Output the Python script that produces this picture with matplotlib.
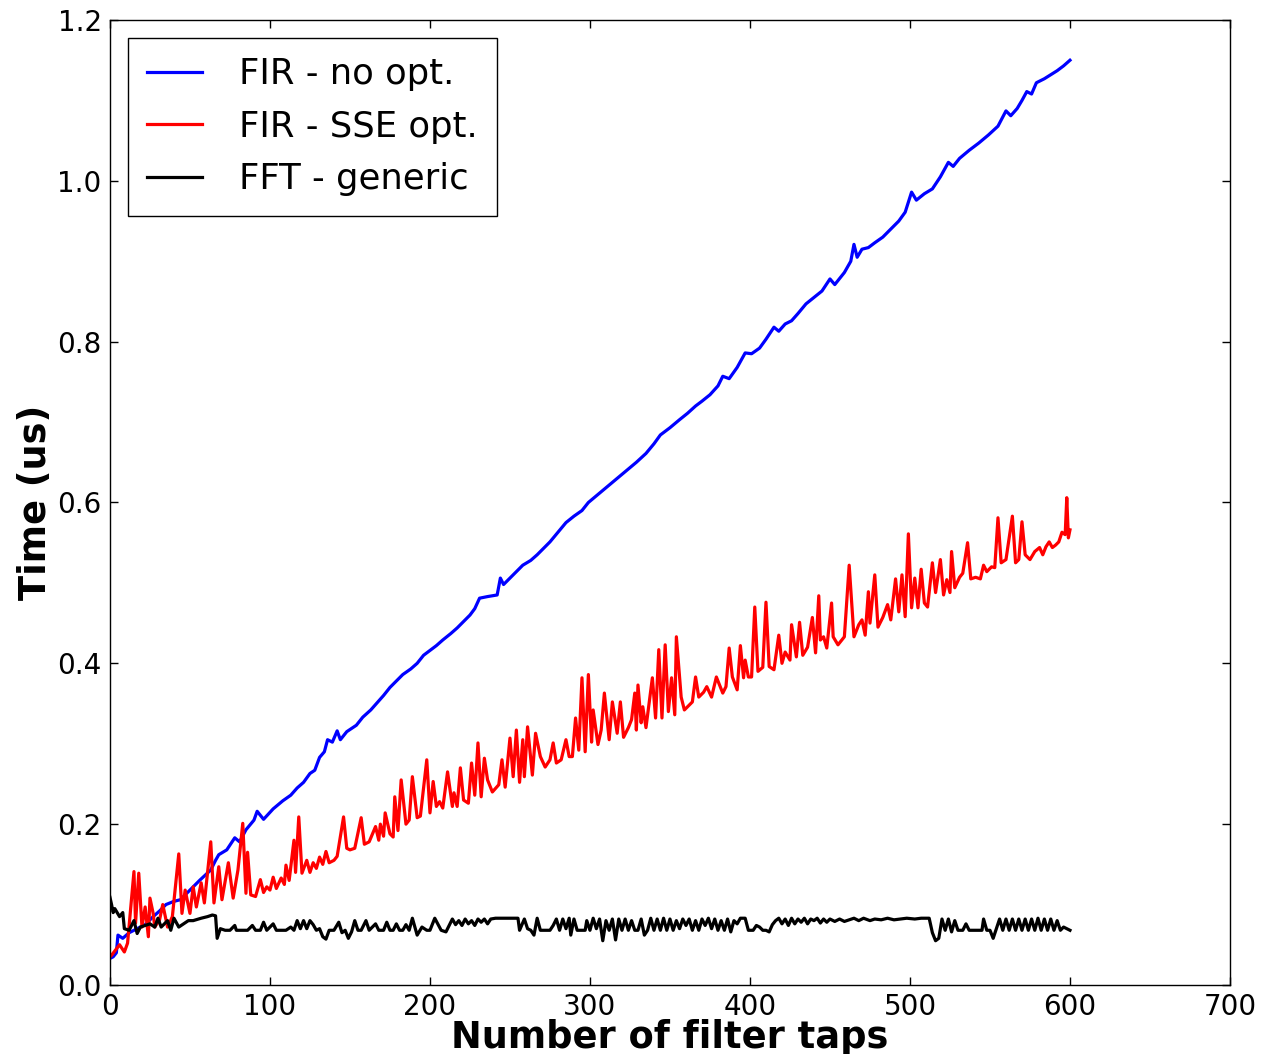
import matplotlib
matplotlib.use("Agg")
import matplotlib.pyplot as plt

# ---- data (tap, time in us) ----
fir_noopt_pts = [
    (0, 0.033), (2, 0.035), (4, 0.040), (5, 0.062), (8, 0.058), (12, 0.065), (17, 0.070),
    (22, 0.075), (27, 0.085), (31, 0.092), (35, 0.100), (40, 0.104), (44, 0.106), (50, 0.118),
    (56, 0.130), (63, 0.143), (66, 0.155), (68, 0.162), (73, 0.168), (78, 0.183), (81, 0.178),
    (85, 0.193), (90, 0.205), (92, 0.216), (96, 0.206), (102, 0.219), (108, 0.229), (113, 0.236),
    (117, 0.245), (121, 0.252), (125, 0.263), (128, 0.267), (131, 0.283), (134, 0.290),
    (136, 0.305), (139, 0.302), (142, 0.316), (144, 0.305), (148, 0.315), (154, 0.323),
    (158, 0.333), (163, 0.342), (167, 0.351), (171, 0.360), (175, 0.370), (179, 0.378),
    (183, 0.386), (188, 0.393), (192, 0.400), (196, 0.410), (200, 0.416), (204, 0.422),
    (208, 0.429), (213, 0.437), (217, 0.444), (221, 0.452), (225, 0.460), (228, 0.468),
    (231, 0.481), (236, 0.483), (242, 0.485), (244, 0.506), (246, 0.498), (248, 0.502),
    (253, 0.512), (258, 0.522), (263, 0.528), (267, 0.535), (271, 0.543), (275, 0.551),
    (280, 0.563), (285, 0.575), (290, 0.583), (295, 0.590), (299, 0.600), (305, 0.610),
    (311, 0.620), (317, 0.630), (323, 0.640), (329, 0.650), (335, 0.661), (340, 0.673),
    (344, 0.684), (350, 0.693), (356, 0.703), (361, 0.711), (366, 0.720), (370, 0.726),
    (375, 0.734), (380, 0.745), (383, 0.757), (387, 0.754), (392, 0.768), (397, 0.786),
    (401, 0.785), (406, 0.792), (410, 0.803), (415, 0.818), (418, 0.813), (422, 0.822),
    (426, 0.826), (430, 0.835), (435, 0.847), (440, 0.855), (445, 0.863), (450, 0.878),
    (453, 0.871), (459, 0.886), (463, 0.900), (465, 0.921), (467, 0.905), (470, 0.915),
    (474, 0.917), (478, 0.923), (483, 0.930), (488, 0.940), (493, 0.950), (497, 0.961),
    (501, 0.986), (504, 0.976), (509, 0.984), (514, 0.990), (519, 1.005), (524, 1.023),
    (527, 1.018), (531, 1.028), (537, 1.038), (543, 1.047), (549, 1.057), (555, 1.068),
    (560, 1.087), (563, 1.081), (567, 1.090), (570, 1.100), (573, 1.111), (576, 1.108),
    (579, 1.122), (584, 1.127), (588, 1.132), (592, 1.137), (596, 1.143), (600, 1.150),
]

fir_sse_pts = [
    (0, 0.035), (1, 0.037), (6, 0.050), (9, 0.041), (11, 0.052), (15, 0.141), (16, 0.077),
    (18, 0.139), (20, 0.072), (22, 0.097), (24, 0.060), (25, 0.108), (27, 0.089), (28, 0.072),
    (31, 0.081), (33, 0.100), (36, 0.072), (39, 0.085), (43, 0.163), (45, 0.089), (47, 0.118),
    (50, 0.089), (52, 0.122), (54, 0.097), (57, 0.127), (59, 0.102), (63, 0.178), (65, 0.102),
    (68, 0.147), (70, 0.106), (74, 0.152), (77, 0.108), (80, 0.143), (83, 0.201), (85, 0.114),
    (86, 0.165), (88, 0.112), (91, 0.110), (94, 0.131), (96, 0.115), (98, 0.122), (100, 0.118),
    (102, 0.134), (104, 0.120), (107, 0.133), (109, 0.125), (110, 0.149), (112, 0.130),
    (115, 0.180), (116, 0.140), (118, 0.209), (120, 0.139), (123, 0.155), (125, 0.140),
    (127, 0.152), (129, 0.145), (131, 0.159), (133, 0.150), (135, 0.166), (137, 0.152),
    (140, 0.155), (142, 0.160), (146, 0.209), (148, 0.170), (150, 0.168), (153, 0.170),
    (157, 0.208), (159, 0.175), (162, 0.178), (166, 0.197), (168, 0.180), (169, 0.200),
    (171, 0.185), (172, 0.214), (175, 0.188), (177, 0.184), (178, 0.234), (180, 0.192),
    (182, 0.255), (185, 0.200), (187, 0.205), (189, 0.259), (192, 0.208), (194, 0.210),
    (198, 0.280), (200, 0.214), (202, 0.253), (204, 0.222), (206, 0.228), (208, 0.220),
    (211, 0.265), (214, 0.222), (215, 0.239), (217, 0.222), (219, 0.270), (221, 0.230),
    (224, 0.226), (226, 0.276), (228, 0.236), (230, 0.301), (232, 0.234), (234, 0.282),
    (236, 0.255), (239, 0.240), (243, 0.249), (245, 0.280), (247, 0.246), (250, 0.307),
    (252, 0.259), (254, 0.317), (256, 0.252), (258, 0.305), (259, 0.259), (261, 0.321),
    (264, 0.261), (266, 0.313), (269, 0.284), (272, 0.271), (275, 0.280), (277, 0.301),
    (279, 0.276), (282, 0.280), (285, 0.305), (287, 0.284), (289, 0.284), (291, 0.332),
    (293, 0.292), (295, 0.382), (297, 0.290), (299, 0.386), (301, 0.302), (302, 0.342),
    (305, 0.299), (307, 0.317), (309, 0.363), (312, 0.305), (314, 0.352), (317, 0.313),
    (319, 0.352), (321, 0.308), (324, 0.320), (326, 0.330), (328, 0.363), (329, 0.317),
    (330, 0.373), (332, 0.326), (333, 0.346), (335, 0.320), (339, 0.382), (341, 0.332),
    (343, 0.417), (345, 0.332), (347, 0.423), (349, 0.340), (351, 0.382), (353, 0.336),
    (354, 0.433), (357, 0.358), (359, 0.342), (364, 0.352), (366, 0.383), (368, 0.358),
    (371, 0.364), (373, 0.371), (376, 0.358), (379, 0.383), (381, 0.373), (383, 0.363),
    (385, 0.371), (387, 0.419), (389, 0.383), (392, 0.367), (394, 0.422), (396, 0.382),
    (397, 0.404), (399, 0.383), (401, 0.383), (403, 0.470), (405, 0.390), (408, 0.395),
    (410, 0.476), (412, 0.396), (415, 0.392), (418, 0.435), (420, 0.400), (422, 0.414),
    (425, 0.404), (426, 0.448), (429, 0.408), (431, 0.451), (433, 0.410), (436, 0.420),
    (439, 0.457), (441, 0.413), (443, 0.484), (444, 0.429), (446, 0.433), (448, 0.419),
    (451, 0.475), (452, 0.433), (455, 0.423), (459, 0.433), (462, 0.522), (465, 0.433),
    (468, 0.448), (470, 0.454), (472, 0.435), (474, 0.489), (475, 0.450), (478, 0.510),
    (480, 0.445), (483, 0.457), (486, 0.473), (488, 0.454), (491, 0.505), (493, 0.464),
    (495, 0.510), (497, 0.458), (499, 0.561), (501, 0.469), (503, 0.506), (505, 0.469),
    (507, 0.517), (509, 0.475), (511, 0.470), (514, 0.525), (516, 0.488), (519, 0.529),
    (521, 0.485), (523, 0.504), (525, 0.488), (526, 0.539), (528, 0.494), (531, 0.507),
    (533, 0.512), (536, 0.550), (538, 0.505), (541, 0.507), (544, 0.505), (546, 0.522),
    (548, 0.514), (551, 0.520), (553, 0.519), (555, 0.581), (557, 0.525), (560, 0.529),
    (564, 0.583), (566, 0.525), (568, 0.529), (570, 0.576), (572, 0.535), (575, 0.529),
    (578, 0.539), (581, 0.544), (583, 0.535), (585, 0.545), (587, 0.551), (589, 0.544),
    (591, 0.547), (593, 0.551), (595, 0.563), (597, 0.560), (598, 0.606), (599, 0.556),
    (600, 0.566),
]

fft_generic_pts = [
    (0, 0.109), (1, 0.100), (2, 0.090), (3, 0.095), (6, 0.085), (8, 0.090), (9, 0.070),
    (12, 0.068), (15, 0.080), (17, 0.064), (19, 0.072), (22, 0.074), (25, 0.076), (28, 0.072),
    (30, 0.083), (32, 0.072), (36, 0.080), (38, 0.068), (40, 0.083), (43, 0.072), (46, 0.076),
    (49, 0.080), (52, 0.080), (57, 0.083), (61, 0.085), (64, 0.087), (66, 0.086), (67, 0.058),
    (69, 0.070), (72, 0.068), (75, 0.068), (78, 0.074), (79, 0.068), (83, 0.068), (86, 0.068),
    (89, 0.074), (91, 0.068), (94, 0.068), (96, 0.078), (98, 0.068), (102, 0.076), (104, 0.068),
    (110, 0.068), (113, 0.072), (115, 0.068), (117, 0.080), (119, 0.070), (121, 0.080),
    (123, 0.070), (125, 0.080), (127, 0.075), (129, 0.068), (131, 0.070), (133, 0.060),
    (135, 0.057), (137, 0.068), (140, 0.068), (143, 0.078), (145, 0.065), (147, 0.068),
    (149, 0.058), (151, 0.066), (153, 0.080), (155, 0.068), (157, 0.068), (160, 0.080),
    (162, 0.068), (164, 0.072), (166, 0.076), (168, 0.068), (171, 0.068), (173, 0.078),
    (175, 0.068), (177, 0.068), (179, 0.076), (181, 0.068), (183, 0.068), (185, 0.075),
    (187, 0.068), (189, 0.083), (192, 0.062), (195, 0.072), (198, 0.068), (200, 0.068),
    (203, 0.083), (207, 0.068), (210, 0.066), (214, 0.082), (216, 0.075), (218, 0.080),
    (220, 0.074), (222, 0.082), (224, 0.076), (226, 0.080), (228, 0.074), (230, 0.082),
    (232, 0.078), (234, 0.082), (236, 0.076), (238, 0.082), (241, 0.083), (246, 0.083),
    (250, 0.083), (255, 0.083), (256, 0.068), (259, 0.082), (261, 0.070), (263, 0.068),
    (265, 0.062), (267, 0.083), (269, 0.068), (272, 0.068), (275, 0.068), (277, 0.074),
    (279, 0.082), (281, 0.068), (283, 0.082), (285, 0.070), (287, 0.083), (288, 0.062),
    (290, 0.082), (292, 0.068), (294, 0.068), (297, 0.068), (298, 0.080), (300, 0.068),
    (302, 0.083), (304, 0.070), (306, 0.082), (308, 0.055), (310, 0.080), (312, 0.068),
    (314, 0.082), (316, 0.056), (318, 0.082), (320, 0.068), (322, 0.082), (324, 0.068),
    (326, 0.080), (328, 0.068), (330, 0.068), (332, 0.082), (334, 0.062), (336, 0.068),
    (338, 0.083), (340, 0.068), (342, 0.082), (344, 0.068), (346, 0.083), (348, 0.068),
    (350, 0.082), (352, 0.068), (354, 0.080), (356, 0.070), (358, 0.082), (360, 0.074),
    (362, 0.082), (364, 0.068), (366, 0.080), (368, 0.068), (370, 0.082), (372, 0.074),
    (374, 0.083), (376, 0.070), (378, 0.082), (380, 0.068), (382, 0.080), (384, 0.068),
    (386, 0.082), (388, 0.066), (390, 0.080), (392, 0.076), (394, 0.083), (397, 0.083),
    (399, 0.068), (402, 0.068), (404, 0.074), (406, 0.072), (408, 0.068), (410, 0.068),
    (412, 0.066), (414, 0.075), (416, 0.080), (418, 0.083), (420, 0.076), (422, 0.082),
    (424, 0.074), (426, 0.083), (428, 0.076), (430, 0.082), (432, 0.078), (434, 0.083),
    (436, 0.076), (438, 0.082), (440, 0.080), (442, 0.083), (444, 0.077), (446, 0.082),
    (448, 0.078), (450, 0.082), (453, 0.079), (456, 0.082), (459, 0.079), (462, 0.081),
    (465, 0.083), (468, 0.080), (471, 0.083), (475, 0.080), (478, 0.082), (482, 0.081),
    (486, 0.083), (490, 0.081), (494, 0.082), (498, 0.083), (503, 0.082), (507, 0.083),
    (512, 0.083), (514, 0.065), (516, 0.055), (518, 0.058), (520, 0.082), (522, 0.068),
    (524, 0.082), (526, 0.066), (528, 0.080), (530, 0.068), (533, 0.068), (535, 0.076),
    (537, 0.068), (540, 0.068), (543, 0.068), (545, 0.068), (546, 0.082), (548, 0.068),
    (550, 0.068), (552, 0.058), (554, 0.070), (556, 0.082), (558, 0.068), (560, 0.082),
    (562, 0.068), (564, 0.082), (566, 0.068), (568, 0.082), (570, 0.068), (572, 0.082),
    (574, 0.068), (576, 0.082), (578, 0.068), (580, 0.083), (582, 0.068), (584, 0.082),
    (586, 0.068), (588, 0.082), (590, 0.068), (592, 0.080), (594, 0.068), (596, 0.072),
    (598, 0.070), (600, 0.068),
]

series_labels = ["FIR - no opt.", "FIR - SSE opt.", "FFT - generic"]
series_colors = ["#0000ff", "#ff0000", "#000000"]
x_ticks = [0, 100, 200, 300, 400, 500, 600, 700]
y_ticks = [0.0, 0.2, 0.4, 0.6, 0.8, 1.0, 1.2]

plt.rcParams["font.family"] = ["DejaVu Sans"]

fig = plt.figure(figsize=(12.61, 10.54), dpi=100)
ax = fig.add_axes([0.0872, 0.0655, 0.8882, 0.9155])

for pts, lab, col in zip([fir_noopt_pts, fir_sse_pts, fft_generic_pts], series_labels, series_colors):
    xs = [p[0] for p in pts]
    ys = [p[1] for p in pts]
    ax.plot(xs, ys, color=col, lw=2.3, label=lab)

ax.set_xlim(0, 700)
ax.set_ylim(0, 1.2)
ax.set_xticks(x_ticks)
ax.set_yticks(y_ticks)
ax.set_xticklabels([str(v) for v in x_ticks])
ax.set_yticklabels([f"{v:.1f}" for v in y_ticks])
ax.tick_params(direction="in", length=6, width=1, top=True, right=True, labelsize=20, pad=6)
for s in ax.spines.values():
    s.set_linewidth(1.0)

ax.set_xlabel("Number of filter taps", fontsize=26.5, fontweight="bold", labelpad=-2)
ax.set_ylabel("Time (us)", fontsize=26.5, fontweight="bold", labelpad=2)

leg = ax.legend(loc="upper left", fontsize=25.5, frameon=True, fancybox=False, framealpha=1,
                edgecolor="black", borderaxespad=0.5, handlelength=1.55, handletextpad=1.05,
                labelspacing=0.52, borderpad=0.55)
leg.get_frame().set_linewidth(1.0)
for ln in leg.get_lines():
    ln.set_linewidth(2.3)

fig.savefig("out.png", dpi=100)
